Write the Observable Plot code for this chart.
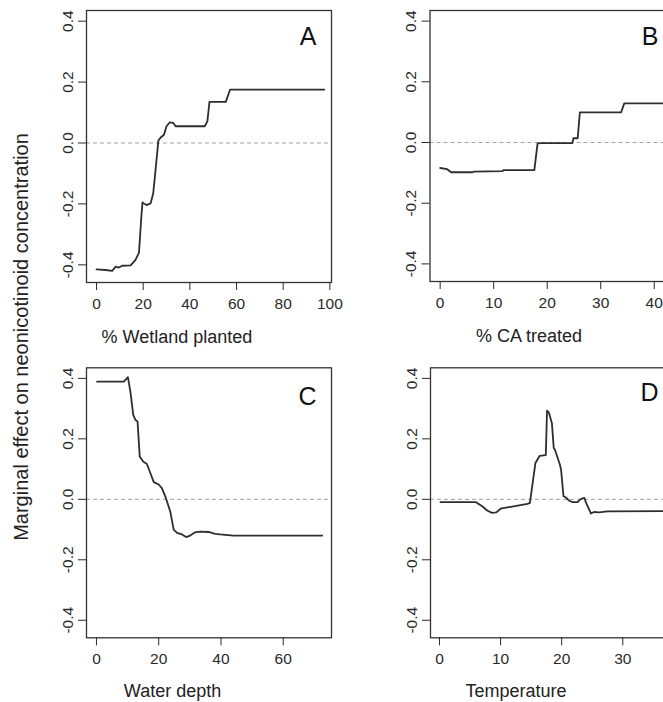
<!DOCTYPE html>
<html><head><meta charset="utf-8">
<script src="https://cdn.jsdelivr.net/npm/d3@7"></script>
<script src="https://cdn.jsdelivr.net/npm/@observablehq/plot@0.6"></script>
<style>
html,body{margin:0;padding:0;background:#fff;}
#fig{position:relative;width:663px;height:702px;overflow:hidden;background:#fff;font-family:"Liberation Sans",Arial,Helvetica,sans-serif;color:#222;}
.panel{position:absolute;}
.xt{position:absolute;font-size:18px;line-height:18px;white-space:nowrap;transform:translateX(-50%);}
.yt{position:absolute;font-size:20px;line-height:20px;white-space:nowrap;transform:translate(-50%,-50%) rotate(-90deg);}
</style></head><body><div id="fig"></div>
<script>
// ---- data ----
const wetlandX = [0, 3.9, 6.7, 8.2, 9.6, 11, 14.6, 16.7, 18.2, 19.2, 19.7, 21.4, 23.2, 24.3, 25.3, 26.5, 27.5, 28.9, 30, 31.4, 32.9, 33.9, 46.4, 47.5, 48.4, 55.4, 57.2, 97.6];
const wetlandY = [-0.415, -0.417, -0.42, -0.406, -0.409, -0.403, -0.402, -0.384, -0.36, -0.242, -0.195, -0.204, -0.198, -0.165, -0.088, 0.008, 0.018, 0.027, 0.055, 0.068, 0.066, 0.055, 0.055, 0.071, 0.135, 0.135, 0.175, 0.175];

const caX = [0, 1.3, 2.05, 6.0, 6.3, 11.6, 11.9, 17.6, 18.2, 18.9, 24.7, 24.9, 25.7, 26.1, 33.8, 34.4, 41.8];
const caY = [-0.084, -0.088, -0.098, -0.098, -0.096, -0.094, -0.091, -0.091, -0.003, -0.002, -0.002, 0.014, 0.014, 0.099, 0.099, 0.129, 0.129];

const depthX = [0.2, 8.8, 10.1, 10.9, 11.8, 12.5, 13.2, 13.9, 15, 16.2, 17.3, 18.4, 20, 21, 22.1, 23.7, 24.8, 25.9, 27.5, 28.8, 30.1, 31.7, 33.3, 36, 38.1, 39.7, 44, 72.5];
const depthY = [0.389, 0.389, 0.404, 0.356, 0.28, 0.263, 0.257, 0.142, 0.125, 0.117, 0.087, 0.057, 0.049, 0.037, 0.01, -0.04, -0.1, -0.111, -0.116, -0.125, -0.12, -0.109, -0.107, -0.108, -0.114, -0.116, -0.12, -0.12];

const tempX = [0.16, 5.9, 7, 7.8, 8.6, 9.3, 10, 11.1, 14.4, 14.8, 15.7, 16.4, 17.4, 17.5, 17.6, 17.9, 18.4, 18.7, 18.9, 19.7, 19.9, 20.3, 20.7, 21.2, 21.7, 22.6, 23.1, 23.7, 24.0, 24.8, 25.3, 26.1, 27.5, 36.8];
const tempY = [-0.009, -0.009, -0.023, -0.037, -0.045, -0.043, -0.031, -0.027, -0.015, -0.012, 0.12, 0.144, 0.146, 0.219, 0.293, 0.287, 0.252, 0.17, 0.164, 0.115, 0.098, 0.01, 0.006, -0.004, -0.009, -0.009, 0.001, 0.005, -0.012, -0.047, -0.042, -0.043, -0.04, -0.039];

const yTicks = [-0.4, -0.2, 0, 0.2, 0.4];
const wetlandTicks = [0, 20, 40, 60, 80, 100];
const caTicks = [0, 10, 20, 30, 40];
const depthTicks = [0, 20, 40, 60];
const tempTicks = [0, 10, 20, 30];

const panelLetters = ["A", "B", "C", "D"];
const xTitles = ["% Wetland planted", "% CA treated", "Water depth", "Temperature"];
const yTitle = "Marginal effect on neonicotinoid concentration";

// ---- layout ----
const FONT = '"Liberation Sans", Arial, Helvetica, sans-serif';
const YDOM = [-0.458, 0.435];
const fig = document.getElementById("fig");

function panel(cfg) {
  const data = cfg.x.map((v, i) => ({x: v, y: cfg.y[i]}));
  const p = Plot.plot({
    width: cfg.width, height: cfg.height,
    marginTop: cfg.mt, marginBottom: cfg.mb, marginLeft: cfg.ml, marginRight: cfg.mr,
    style: {fontFamily: FONT, fontSize: "15.5px", color: "#2a2a2a", background: "transparent", overflow: "visible"},
    x: {domain: cfg.xdom},
    y: {domain: YDOM},
    marks: [
      Plot.ruleY([0], {stroke: "#a0a0a0", strokeDasharray: "4,3", strokeWidth: 1}),
      Plot.line(data, {x: "x", y: "y", stroke: "#2e2e2e", strokeWidth: 1.8}),
      Plot.frame({stroke: "#333", strokeWidth: 1.3}),
      Plot.axisX({ticks: cfg.ticks, tickSize: 8, tickPadding: 7.5, tickFormat: d => String(d), label: null}),
      Plot.axisY({ticks: yTicks, tickSize: 8, tickPadding: 6, tickRotate: -90, tickFormat: d => d.toFixed(1), label: null}),
      Plot.text([cfg.letter], {text: d => d, frameAnchor: "top-right", textAnchor: "end", lineAnchor: "top", dx: -15, dy: cfg.ldy, fontSize: 25, fill: "#111"})
    ]
  });
  p.classList.add("panel");
  p.style.left = cfg.left + "px";
  p.style.top = cfg.top + "px";
  fig.appendChild(p);
}

panel({x: wetlandX, y: wetlandY, ticks: wetlandTicks, xdom: [-4.3, 100.7], left: 0, top: 0, width: 340, height: 350, mt: 10, mb: 68, ml: 86, mr: 9, letter: panelLetters[0], ldy: 17});
panel({x: caX, y: caY, ticks: caTicks, xdom: [-1.9, 43.6], left: 340, top: 0, width: 345, height: 350, mt: 10, mb: 69, ml: 89.5, mr: 12, letter: panelLetters[1], ldy: 17});
panel({x: depthX, y: depthY, ticks: depthTicks, xdom: [-3.2, 75.5], left: 0, top: 350, width: 340, height: 352, mt: 17.3, mb: 64.7, ml: 86, mr: 9, letter: panelLetters[2], ldy: 19});
panel({x: tempX, y: tempY, ticks: tempTicks, xdom: [-1.47, 38.3], left: 340, top: 350, width: 345, height: 352, mt: 17.3, mb: 64.7, ml: 90, mr: 12, letter: panelLetters[3], ldy: 15});

const titlePos = [[177, 327.5], [529, 326.5], [172.5, 682.3], [516, 682.3]];
xTitles.forEach((t, i) => {
  const d = document.createElement("div");
  d.className = "xt";
  d.textContent = t;
  d.style.left = titlePos[i][0] + "px";
  d.style.top = titlePos[i][1] + "px";
  fig.appendChild(d);
});
const yt = document.createElement("div");
yt.className = "yt";
yt.textContent = yTitle;
yt.style.left = "21.4px";
yt.style.top = "337.3px";
fig.appendChild(yt);
</script>
</body></html>
